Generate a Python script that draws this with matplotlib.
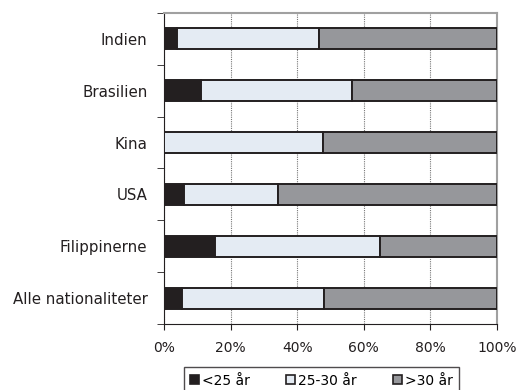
import matplotlib.pyplot as plt
from matplotlib.patches import Patch

# Data (andel i procent)
categories = ['Indien', 'Brasilien', 'Kina', 'USA', 'Filippinerne', 'Alle nationaliteter']
under25 = [3.8, 11.1, 0.0, 6.0, 15.3, 5.4]
mellem25_30 = [42.7, 45.4, 47.7, 28.3, 49.7, 42.6]
over30 = [53.5, 43.5, 52.3, 65.7, 35.0, 52.0]
series_labels = ['<25 år', '25-30 år', '>30 år']
x_ticks = [0, 20, 40, 60, 80, 100]
x_ticklabels = ['0%', '20%', '40%', '60%', '80%', '100%']

colors = ['#231f20', '#e4ebf3', '#96979b']

fig = plt.figure(figsize=(5.16, 3.9), dpi=100)
ax = fig.add_axes([0.318, 0.169, 0.645, 0.798])

y = list(range(len(categories)))
left = [0] * len(categories)
for vals, col, lab in zip([under25, mellem25_30, over30], colors, series_labels):
    ax.barh(y, vals, left=left, height=0.41, color=col, edgecolor='#231f20',
            linewidth=1.4, label=lab, zorder=3)
    left = [a + b for a, b in zip(left, vals)]

ax.set_ylim(len(categories) - 0.5, -0.5)
ax.set_xlim(0, 100)
ax.set_yticks(y)
ax.set_yticklabels(categories, fontsize=10.8, color='#231f20')
ax.set_yticks([i - 0.5 for i in range(len(categories) + 1)], minor=True)
ax.tick_params(axis='y', which='major', length=0, pad=12)
ax.tick_params(axis='y', which='minor', length=5, color='#231f20')
ax.set_xticks(x_ticks)
ax.set_xticklabels(x_ticklabels, fontsize=10, color='#231f20')
ax.tick_params(axis='x', length=4, color='#231f20', pad=8)

ax.grid(axis='x', color='#777777', linestyle=(0, (1, 1)), linewidth=0.8, zorder=0)
ax.spines['left'].set_color('#231f20')
ax.spines['bottom'].set_color('#231f20')
ax.spines['top'].set_color('#a0a0a0')
ax.spines['right'].set_color('#a0a0a0')
ax.spines['top'].set_linewidth(1.5)
ax.spines['right'].set_linewidth(1.5)

handles = [Patch(facecolor=c, edgecolor='#231f20', linewidth=1.2) for c in colors]
fig.legend(handles, series_labels, loc='lower center', bbox_to_anchor=(0.623, -0.028),
           ncol=3, fontsize=10, frameon=True, fancybox=False, edgecolor='#231f20',
           handlelength=0.65, handleheight=0.65, handletextpad=0.2, columnspacing=2.6,
           borderpad=0.45)

fig.savefig('out.png', dpi=100)
